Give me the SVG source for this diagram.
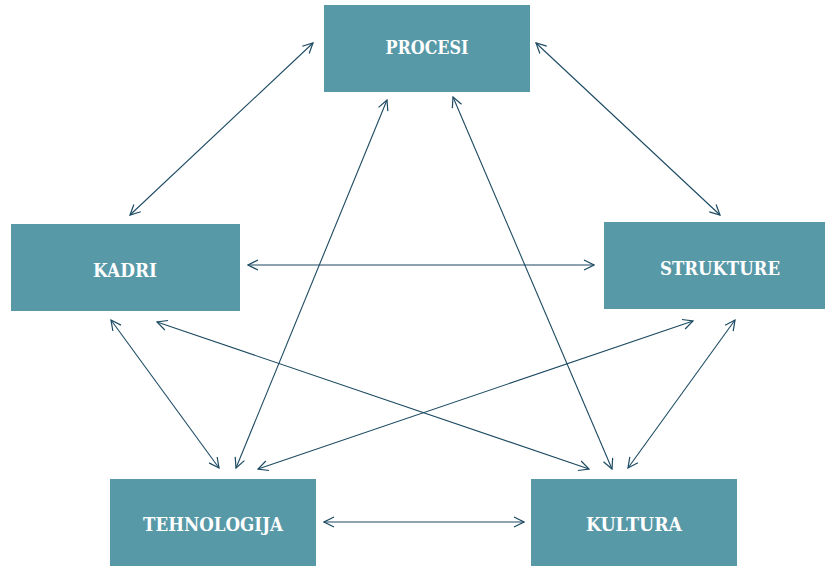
<svg xmlns="http://www.w3.org/2000/svg" width="825" height="566" viewBox="0 0 825 566">
  <style>
    .box { fill: #5899a8; }
    .lbl { fill: #ffffff; font-family: "DejaVu Serif", "Liberation Serif", serif; font-size: 18px; font-weight: bold; text-anchor: middle; dominant-baseline: central; }
    .link { stroke: #1c4a62; stroke-width: 1.1; fill: none; marker-start: url(#tip); marker-end: url(#tip); }
  </style>
  <defs>
    <marker id="tip" viewBox="0 0 12 12" refX="11" refY="6" markerWidth="12" markerHeight="12" markerUnits="userSpaceOnUse" orient="auto-start-reverse">
      <path d="M1,1 L11,6 L1,11" fill="none" stroke="#1c4a62" stroke-width="1.2"/>
    </marker>
  </defs>
  <rect width="825" height="566" fill="#ffffff"/>

  <g id="connectors">
    <line class="link" x1="313" y1="43" x2="130" y2="215"/>
    <line class="link" x1="536" y1="43" x2="720" y2="215"/>
    <line class="link" x1="248" y1="265" x2="594" y2="265"/>
    <line class="link" x1="387" y1="100" x2="236" y2="468"/>
    <line class="link" x1="453" y1="97" x2="612" y2="469"/>
    <line class="link" x1="111" y1="320" x2="219" y2="468"/>
    <line class="link" x1="157" y1="322" x2="589" y2="469"/>
    <line class="link" x1="693" y1="321" x2="258" y2="469"/>
    <line class="link" x1="735" y1="320" x2="628" y2="468"/>
    <line class="link" x1="324" y1="522" x2="524" y2="522"/>
  </g>

  <g id="procesi">
    <rect class="box" x="324" y="5" width="206" height="87"/>
    <text class="lbl" x="427" y="47" textLength="83" lengthAdjust="spacingAndGlyphs">PROCESI</text>
  </g>
  <g id="kadri">
    <rect class="box" x="11" y="224" width="229" height="87"/>
    <text class="lbl" x="125" y="270" textLength="64" lengthAdjust="spacingAndGlyphs">KADRI</text>
  </g>
  <g id="strukture">
    <rect class="box" x="604" y="222" width="221" height="87"/>
    <text class="lbl" x="720" y="268" textLength="120" lengthAdjust="spacingAndGlyphs">STRUKTURE</text>
  </g>
  <g id="tehnologija">
    <rect class="box" x="110" y="479" width="206" height="87"/>
    <text class="lbl" x="213" y="524" textLength="140" lengthAdjust="spacingAndGlyphs">TEHNOLOGIJA</text>
  </g>
  <g id="kultura">
    <rect class="box" x="531" y="479" width="206" height="87"/>
    <text class="lbl" x="634" y="524" textLength="96" lengthAdjust="spacingAndGlyphs">KULTURA</text>
  </g>
</svg>
